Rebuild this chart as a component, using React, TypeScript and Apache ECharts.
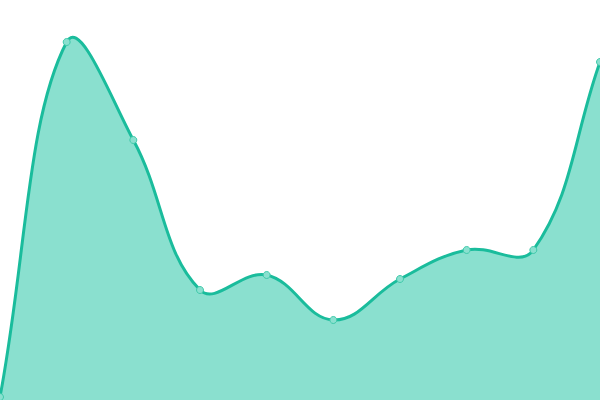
import React, { useEffect, useRef } from "react";
import * as echarts from "echarts";

const categories = ["1", "2", "3", "4", "5", "6", "7", "8", "9", "10"];
const values = [3, 358, 260, 110, 125, 80, 121, 150, 150, 338];

const LINE_COLOR = "#1abc9c";
const FILL_COLOR = "#8ae0cf";
const TENSION = 0.4;

function splinePath(pts: number[][], w: number, h: number): string {
  const n = pts.length;
  const cps: { prev: number[]; next: number[] }[] = [];
  const clamp = (v: number, lo: number, hi: number) => Math.max(lo, Math.min(hi, v));
  for (let i = 0; i < n; i++) {
    const cur = pts[i];
    const prev = i > 0 ? pts[i - 1] : cur;
    const next = i < n - 1 ? pts[i + 1] : cur;
    const d01 = Math.hypot(cur[0] - prev[0], cur[1] - prev[1]);
    const d12 = Math.hypot(next[0] - cur[0], next[1] - cur[1]);
    let s01 = d01 / (d01 + d12);
    let s12 = d12 / (d01 + d12);
    if (isNaN(s01)) s01 = 0;
    if (isNaN(s12)) s12 = 0;
    const fa = TENSION * s01;
    const fb = TENSION * s12;
    const dx = next[0] - prev[0];
    const dy = next[1] - prev[1];
    cps.push({
      prev: [clamp(cur[0] - fa * dx, 0, w), clamp(cur[1] - fa * dy, 0, h)],
      next: [clamp(cur[0] + fb * dx, 0, w), clamp(cur[1] + fb * dy, 0, h)],
    });
  }
  let d = `M${pts[0][0]},${pts[0][1]}`;
  for (let i = 1; i < n; i++) {
    const a = cps[i - 1].next;
    const b = cps[i].prev;
    d += ` C${a[0]},${a[1]} ${b[0]},${b[1]} ${pts[i][0]},${pts[i][1]}`;
  }
  return d;
}

export default function App() {
  const ref = useRef<HTMLDivElement>(null);
  useEffect(() => {
    if (!ref.current) return;
    const chart = echarts.init(ref.current, undefined, { renderer: "svg" });
    const data = values.map((v, i) => [i, v]);
    chart.setOption({
      animation: false,
      grid: { left: 0, right: 0, top: 0, bottom: 0 },
      xAxis: { type: "category", data: categories, boundaryGap: false, show: false },
      yAxis: { type: "value", min: 0, max: 400, show: false },
      series: [
        {
          type: "custom",
          data,
          encode: { x: 0, y: 1 },
          silent: true,
          z: 2,
          renderItem: (params: any, api: any) => {
            if (params.dataIndex !== 0) return null;
            const pts = values.map((v, i) => api.coord([i, v]));
            const base = api.coord([0, 0])[1];
            const w = params.coordSys.x + params.coordSys.width;
            const h = params.coordSys.y + params.coordSys.height;
            const line = splinePath(pts, w, h);
            const area =
              line +
              ` L${pts[pts.length - 1][0]},${base} L${pts[0][0]},${base} Z`;
            return {
              type: "group",
              children: [
                {
                  type: "path",
                  shape: { pathData: area },
                  style: { fill: FILL_COLOR, stroke: "none" },
                },
                {
                  type: "path",
                  shape: { pathData: line },
                  style: { fill: "none", stroke: LINE_COLOR, lineWidth: 3 },
                },
              ],
            };
          },
        },
        {
          type: "scatter",
          data,
          z: 3,
          symbol: "circle",
          symbolSize: 7,
          itemStyle: { color: FILL_COLOR, borderColor: "#3fc9aa", borderWidth: 1, opacity: 1 },
        },
      ],
    });
    return () => chart.dispose();
  }, []);
  return (
    <div
      ref={ref}
      style={{ position: "fixed", left: 0, top: 0, width: 600, height: 400 }}
    />
  );
}
